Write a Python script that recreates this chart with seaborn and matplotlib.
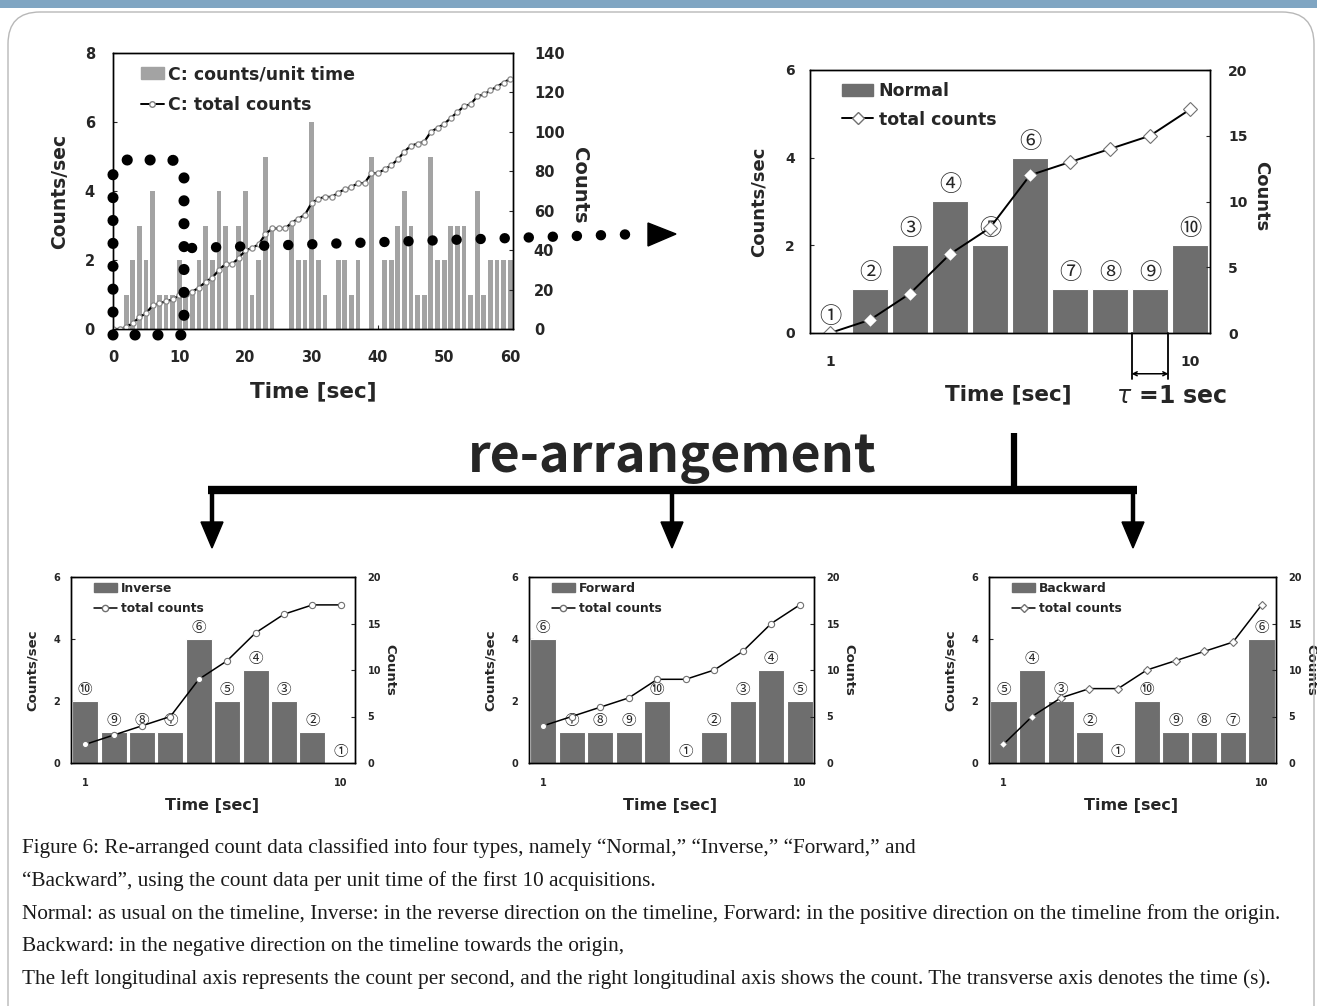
import numpy as np
import pandas as pd
import matplotlib
matplotlib.use("Agg")
import matplotlib.pyplot as plt
import seaborn as sns
import matplotlib.transforms as mtrans
from matplotlib.patches import FancyBboxPatch, Polygon, Rectangle, Patch
from matplotlib.lines import Line2D

# ---------------- data ----------------
time_sec = list(range(1, 61))
counts_per_sec = [0, 1, 2, 3, 2, 4, 1, 1, 1, 2,
                  1, 1, 2, 3, 2, 4, 3, 0, 3, 4,
                  1, 2, 5, 3, 0, 0, 3, 2, 2, 6,
                  2, 1, 0, 2, 2, 1, 2, 0, 5, 0,
                  2, 2, 3, 4, 3, 1, 1, 5, 2, 2,
                  3, 3, 3, 1, 4, 1, 2, 2, 2, 2]
slots = list(range(1, 11))
normal_vals = [0, 1, 2, 3, 2, 4, 1, 1, 1, 2]
normal_ids = ["①", "②", "③", "④", "⑤", "⑥", "⑦", "⑧", "⑨", "⑩"]
inverse_vals = [2, 1, 1, 1, 4, 2, 3, 2, 1, 0]
inverse_ids = ["⑩", "⑨", "⑧", "⑦", "⑥", "⑤", "④", "③", "②", "①"]
forward_vals = [4, 1, 1, 1, 2, 0, 1, 2, 3, 2]
forward_ids = ["⑥", "⑦", "⑧", "⑨", "⑩", "①", "②", "③", "④", "⑤"]
backward_vals = [2, 3, 2, 1, 0, 2, 1, 1, 1, 4]
backward_ids = ["⑤", "④", "③", "②", "①", "⑩", "⑨", "⑧", "⑦", "⑥"]

left_ticks_big = [0, 2, 4, 6, 8]
right_ticks_big = [0, 20, 40, 60, 80, 100, 120, 140]
time_ticks_big = [0, 10, 20, 30, 40, 50, 60]
left_ticks_small = [0, 2, 4, 6]
right_ticks_small = [0, 5, 10, 15, 20]
slot_ticks = [1, 10]

caption_lines = [
    "Figure 6: Re-arranged count data classified into four types, namely \u201cNormal,\u201d \u201cInverse,\u201d \u201cForward,\u201d and",
    "\u201cBackward\u201d, using the count data per unit time of the first 10 acquisitions.",
    "Normal: as usual on the timeline, Inverse: in the reverse direction on the timeline, Forward: in the positive direction on the timeline from the origin.",
    "Backward: in the negative direction on the timeline towards the origin,",
    "The left longitudinal axis represents the count per second, and the right longitudinal axis shows the count. The transverse axis denotes the time (s).",
]

# ---------------- style ----------------
sns.set_theme(style="white")
plt.rcParams["font.family"] = ["DejaVu Sans"]
plt.rcParams["axes.edgecolor"] = "black"
plt.rcParams["axes.linewidth"] = 1.0
CJK = ["Noto Sans CJK JP", "DejaVu Sans"]

W, H = 1317, 1006
fig = plt.figure(figsize=(W / 100, H / 100), dpi=100)


def rect(x0, y0, x1, y1):
    return [x0 / W, 1 - y1 / H, (x1 - x0) / W, (y1 - y0) / H]


def style_axes(ax, ax2, lsize, lpad, rpad, xpad, xlen):
    ax.tick_params(axis="y", direction="in", length=3, width=0.8, pad=lpad,
                   labelsize=lsize, left=True)
    ax.tick_params(axis="x", direction="in", length=xlen, width=0.8, pad=xpad,
                   labelsize=lsize, bottom=True)
    ax2.tick_params(axis="y", direction="in", length=3, width=0.8, pad=rpad,
                    labelsize=lsize, right=True)
    for a in (ax, ax2):
        for lab in a.get_xticklabels() + a.get_yticklabels():
            lab.set_fontweight("bold")
        for s in a.spines.values():
            s.set_visible(True)
            s.set_color("black")
            s.set_linewidth(1.0)


# ---------------- top-left: full 60 s record ----------------
ax = fig.add_axes(rect(113, 53, 513, 329))
sns.barplot(x=time_sec, y=counts_per_sec, native_scale=True, width=0.72,
            color="#a3a3a3", saturation=1, errorbar=None, linewidth=0, ax=ax)
ax.set_xlim(0, 60.4)
ax.set_ylim(0, 8)
ax.set_xticks(time_ticks_big)
ax.set_xticklabels([str(v) for v in time_ticks_big])
ax.set_yticks(left_ticks_big)
ax.set_yticklabels([str(v) for v in left_ticks_big])
ax2 = ax.twinx()
tot_t = [0] + time_sec
tot_c = [0] + list(np.cumsum(counts_per_sec))
sns.lineplot(x=tot_t, y=tot_c, ax=ax2, color="black", lw=1.6, marker="o",
             markersize=3.8, markerfacecolor="white", markeredgecolor="#8a8a8a",
             markeredgewidth=0.9)
ax2.set_ylim(0, 140)
ax2.set_yticks(right_ticks_big)
ax2.set_yticklabels([str(v) for v in right_ticks_big])
style_axes(ax, ax2, 10.5, 13, 15, 15, 3)
ax.set_xlabel("Time [sec]", fontsize=15.5, fontweight="bold")
ax.set_ylabel("Counts/sec", fontsize=13.5, fontweight="bold")
ax2.set_ylabel("Counts", fontsize=14, fontweight="bold", rotation=270)
ax.xaxis.set_label_coords(0.5, -0.19)
ax.yaxis.set_label_coords(-0.11, 0.5)
ax2.yaxis.set_label_coords(1.19, 0.52)
ax2.legend(handles=[Patch(color="#a3a3a3"),
                    Line2D([], [], color="black", lw=1.4, marker="o", ms=4,
                           mfc="white", mec="#808080")],
           labels=["C: counts/unit time", "C: total counts"],
           loc="upper left", bbox_to_anchor=(0.04, 1.0), frameon=False,
           prop={"weight": "bold", "size": 12.5}, handlelength=1.3,
           handletextpad=0.25, labelspacing=0.75, borderaxespad=0.3)


# ---------------- re-arranged 10 s charts ----------------
def slot_chart(box, vals, ids, marker, big):
    if big:
        sz = dict(tick=10, lpad=11, rpad=13, xpad=16, ylab=13, xlab=15.5,
                  rlab=13, circ=16, circ_off=12, ms=7, lw=1.4)
    else:
        sz = dict(tick=7, lpad=8, rpad=9, xpad=11, ylab=9.5, xlab=11.5,
                  rlab=9.5, circ=10.5, circ_off=8, ms=4.5, lw=1.1)
    a = fig.add_axes(rect(*box))
    sns.barplot(x=slots, y=vals, native_scale=True, width=0.92, color="#6e6e6e",
                saturation=1, errorbar=None, edgecolor="white", linewidth=0.8,
                ax=a)
    a.set_xlim(0.5, 10.5)
    a.set_ylim(0, 6)
    a.set_xticks(slot_ticks)
    a.set_xticklabels([str(v) for v in slot_ticks])
    a.set_yticks(left_ticks_small)
    a.set_yticklabels([str(v) for v in left_ticks_small])
    for xv, yv, lab in zip(slots, vals, ids):
        a.annotate(lab, (xv, yv), xytext=(0, sz["circ_off"]),
                   textcoords="offset points", ha="center", va="center",
                   fontsize=sz["circ"], family=CJK, annotation_clip=False)
    b = a.twinx()
    sns.lineplot(x=slots, y=list(np.cumsum(vals)), ax=b, color="black",
                 lw=sz["lw"], marker=marker, markersize=sz["ms"],
                 markerfacecolor="white", markeredgecolor="#707070",
                 markeredgewidth=0.8)
    b.set_ylim(0, 20)
    b.set_yticks(right_ticks_small)
    b.set_yticklabels([str(v) for v in right_ticks_small])
    style_axes(a, b, sz["tick"], sz["lpad"], sz["rpad"], sz["xpad"], 0)
    a.set_xlabel("Time [sec]", fontsize=sz["xlab"], fontweight="bold")
    a.set_ylabel("Counts/sec", fontsize=sz["ylab"], fontweight="bold")
    b.set_ylabel("Counts", fontsize=sz["rlab"], fontweight="bold", rotation=270)
    return a, b


a1, b1 = slot_chart((810, 70, 1210, 333), normal_vals, normal_ids, "D", True)
a1.xaxis.set_label_coords(0.495, -0.194)
a1.yaxis.set_label_coords(-0.105, 0.5)
b1.yaxis.set_label_coords(1.15, 0.52)
b1.legend(handles=[Patch(color="#6e6e6e"),
                   Line2D([], [], color="black", lw=1.4, marker="D", ms=6,
                          mfc="white", mec="#707070")],
          labels=["Normal", "total counts"], loc="upper left",
          bbox_to_anchor=(0.05, 1.0), frameon=False,
          prop={"weight": "bold", "size": 12.5}, handlelength=1.8,
          handletextpad=0.3, labelspacing=0.6, borderaxespad=0.3)
# tau = 1 sec marker under bar 9
blend = mtrans.blended_transform_factory(a1.transData, a1.transAxes)
for xe in (slots[8] - 0.46, slots[8] + 0.46):
    a1.plot([xe, xe], [0, -0.175], transform=blend, color="black", lw=1.3,
            clip_on=False)
a1.annotate("", xy=(slots[8] - 0.46, -0.155), xytext=(slots[8] + 0.46, -0.155),
            xycoords=blend, textcoords=blend,
            arrowprops=dict(arrowstyle="<->", lw=1.1, color="black",
                            shrinkA=0, shrinkB=0, mutation_scale=7))
a1.text(slots[8] + 0.55, -0.24, r"$\tau$ =1 sec", transform=blend,
        ha="center", va="center", fontsize=17, fontweight="bold")

small_boxes = [(71, 577, 355, 763), (529, 577, 814, 763), (989, 577, 1276, 763)]
small_sets = [(inverse_vals, inverse_ids, "Inverse", "o"),
              (forward_vals, forward_ids, "Forward", "o"),
              (backward_vals, backward_ids, "Backward", "D")]
for box, (vals, ids, name, mk) in zip(small_boxes, small_sets):
    a, b = slot_chart(box, vals, ids, mk, False)
    w = box[2] - box[0]
    a.xaxis.set_label_coords(0.495, -0.19)
    a.yaxis.set_label_coords(-32 / w, 0.5)
    b.yaxis.set_label_coords(1 + 41 / w, 0.5)
    b.legend(handles=[Patch(color="#6e6e6e"),
                      Line2D([], [], color="black", lw=1.1, marker=mk,
                             ms=4.5 if mk == "o" else 4, mfc="white",
                             mec="#707070")],
             labels=[name, "total counts"], loc="upper left",
             bbox_to_anchor=(0.05, 1.02), frameon=False,
             prop={"weight": "bold", "size": 8.8}, handlelength=1.9,
             handletextpad=0.3, labelspacing=0.6, borderaxespad=0.3)

# ---------------- overlay: frame, arrows, caption ----------------
ov = fig.add_axes([0, 0, 1, 1], zorder=5)
ov.set_xlim(0, W)
ov.set_ylim(H, 0)
ov.axis("off")
ov.patch.set_alpha(0)

ov.add_patch(Rectangle((0, 0), W, 8, color="#7fa5c2", lw=0))
ov.add_patch(FancyBboxPatch((8, 12), W - 11, 1040,
                            boxstyle="round,pad=0,rounding_size=32",
                            fill=False, ec="#b8b8b8", lw=1.0))

# dotted rounded rectangle around the first 10 s
rr = 14
x0, x1, y0, y1 = 113, 184, 160, 335
ang1 = np.linspace(np.pi, 1.5 * np.pi, 8)
ang2 = np.linspace(1.5 * np.pi, 2 * np.pi, 8)
px = ([x0] + list(x0 + rr + rr * np.cos(ang1)) +
      list(x1 - rr + rr * np.cos(ang2)) + [x1, x0])
py = ([y1] + list(y0 + rr + rr * np.sin(ang1)) +
      list(y0 + rr + rr * np.sin(ang2)) + [y1, y1])
ov.plot(px, py, lw=8, linestyle=(0, (0.01, 2.05)), color="black",
        dash_capstyle="round")
ov.plot([192, 640], [248, 234], lw=7.5, linestyle=(0, (0.01, 2.3)),
        color="black", dash_capstyle="round")
ov.add_patch(Polygon([[648, 223], [648, 246], [676, 234]], closed=True,
                     color="black"))

# re-arrangement bracket
ov.plot([1014, 1014], [433, 490], color="black", lw=4.5, solid_capstyle="butt")
ov.plot([208, 1137], [490, 490], color="black", lw=6, solid_capstyle="butt")
for xa in (212, 672, 1133):
    ov.plot([xa, xa], [490, 524], color="black", lw=3.2, solid_capstyle="butt")
    ov.add_patch(Polygon([[xa - 11, 522], [xa + 11, 522], [xa, 548]],
                         closed=True, color="black"))
title = ov.text(672, 458, "re-arrangement", ha="center", va="center",
                fontsize=44, family=CJK, fontweight="bold")

cap_y = [848, 881, 914, 946, 979]
caps = []
for yv, line in zip(cap_y, caption_lines):
    caps.append(ov.text(22, yv, line, ha="left", va="center", fontsize=14,
                        family=["Liberation Serif", "DejaVu Serif"],
                        color="#1a1a1a"))

# fit widths of the title and the caption
fig.canvas.draw()
r = fig.canvas.get_renderer()
bb = title.get_window_extent(r)
title.set_fontsize(title.get_fontsize() * 410 / bb.width)
bb = caps[2].get_window_extent(r)
scale = 1260 / bb.width
for c in caps:
    c.set_fontsize(c.get_fontsize() * scale)

fig.savefig("out.png", dpi=100)
